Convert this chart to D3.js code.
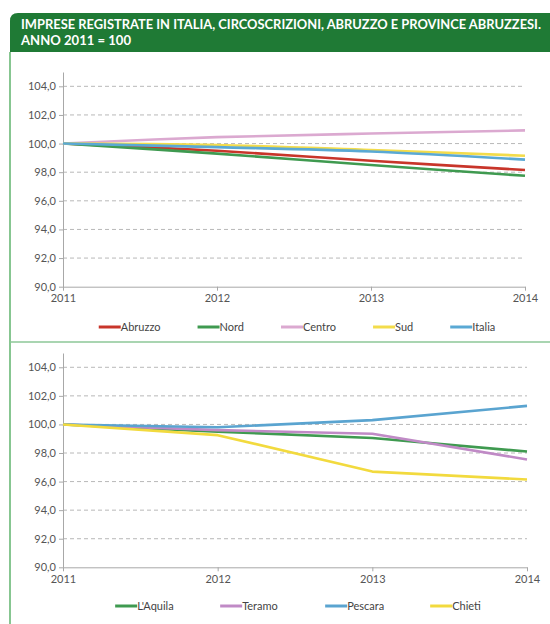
<!DOCTYPE html>
<html>
  <head>
    <meta charset="UTF-8">
    <title>Imprese registrate</title>
    <style>
      * { margin: 0; padding: 0; overflow: hidden; }
      body { background: #fff; }
      text { font-family: Lato, "DejaVu Sans", sans-serif; }
    </style>
    <script src="https://d3js.org/d3.v7.min.js"></script>
  </head>
  <body>
    <script type="text/javascript">
      // dati
      const years = ["2011", "2012", "2013", "2014"];
      const yTicks = [90, 92, 94, 96, 98, 100, 102, 104];

      const areaNames = ["Abruzzo", "Nord", "Centro", "Sud", "Italia"];
      const abruzzo = [100, 99.5, 98.8, 98.15];
      const nord = [100, 99.3, 98.5, 97.75];
      const centro = [100, 100.45, 100.7, 100.92];
      const sud = [100, 99.9, 99.55, 99.15];
      const italia = [100, 99.75, 99.45, 98.88];

      const provNames = ["L'Aquila", "Teramo", "Pescara", "Chieti"];
      const laquila = [100, 99.5, 99.05, 98.1];
      const teramo = [100, 99.6, 99.35, 97.55];
      const pescara = [100, 99.8, 100.3, 101.3];
      const chieti = [100, 99.25, 96.7, 96.15];

      const GREEN = "#1f7a35";
      const itFormat = d3.formatLocale({ decimal: ",", thousands: ".", grouping: [3], currency: ["", "€"] }).format(".1f");

      const svg = d3.select("body").append("svg")
        .attr("width", 550)
        .attr("height", 624);

      // intestazione
      svg.append("path")
        .attr("d", "M10,52 V21 Q10,13 18,13 H550 V52 Z")
        .attr("fill", GREEN);
      const title = ["IMPRESE REGISTRATE IN ITALIA, CIRCOSCRIZIONI, ABRUZZO E PROVINCE ABRUZZESI.", "ANNO 2011 = 100"];
      svg.selectAll(".title")
        .data(title)
        .enter()
        .append("text")
        .attr("transform", (d, i) => `translate(21,${28.5 + i * 16.5}) scale(1,1.12)`)
        .attr("fill", "#fff")
        .attr("font-family", "'Liberation Sans Narrow', 'DejaVu Sans Condensed', sans-serif")
        .attr("font-weight", "bold")
        .attr("font-size", 12.5)
        .attr("textLength", (d, i) => (i === 0 ? 520 : 110))
        .attr("lengthAdjust", "spacingAndGlyphs")
        .text((d) => d);

      // bordi dei pannelli
      svg.append("line")
        .attr("x1", 10).attr("x2", 10).attr("y1", 52).attr("y2", 624)
        .attr("stroke", "#5fb36d").attr("stroke-width", 1.5);
      svg.append("line")
        .attr("x1", 10).attr("x2", 550).attr("y1", 342).attr("y2", 342)
        .attr("stroke", "#8cc797").attr("stroke-width", 1.5);

      const drawChart = (cfg) => {
        const x = d3.scalePoint().domain(years).range([63, cfg.right]);
        const y = d3.scaleLinear().domain([90, 105]).range([cfg.bottom, cfg.top]);
        const g = svg.append("g");

        // griglia
        g.selectAll(".grid")
          .data(yTicks.filter((d) => d > 90))
          .enter()
          .append("line")
          .attr("x1", x(years[0])).attr("x2", x(years[years.length - 1]))
          .attr("y1", (d) => y(d)).attr("y2", (d) => y(d))
          .attr("stroke", "#b8b8b8")
          .attr("stroke-dasharray", "4,3");

        const yAxis = g.append("g")
          .attr("transform", `translate(${x(years[0])},0)`)
          .call(d3.axisLeft(y).tickValues(yTicks).tickFormat(itFormat).tickSize(4).tickSizeOuter(0).tickPadding(3));
        const xAxis = g.append("g")
          .attr("transform", `translate(0,${y(90)})`)
          .call(d3.axisBottom(x).tickSize(4).tickSizeOuter(0).tickPadding(4));
        [yAxis, xAxis].forEach((a) => {
          a.selectAll("path, line").attr("stroke", "#a8a8a8");
          a.selectAll("text").attr("fill", "#555").attr("font-size", 11).attr("font-family", "Lato, sans-serif");
        });

        const line = d3.line()
          .x((d, i) => x(years[i]))
          .y((d) => y(d))
          .curve(cfg.curve);

        g.selectAll(".serie")
          .data(cfg.series)
          .enter()
          .append("path")
          .attr("d", (d) => line(d.values))
          .attr("fill", "none")
          .attr("stroke", (d) => d.color)
          .attr("stroke-width", 2.6)
          .attr("stroke-linejoin", "round");

        // legenda
        const leg = g.append("g");
        const items = leg.selectAll(".leg")
          .data(cfg.series)
          .enter()
          .append("g");
        items.append("line")
          .attr("x1", 0).attr("x2", 22)
          .attr("stroke", (d) => d.color)
          .attr("stroke-width", 3);
        items.append("text")
          .attr("x", 22).attr("y", 4)
          .attr("fill", "#444")
          .attr("font-size", 11)
          .text((d) => d.name);
        let pos = 0;
        let lastW = 0;
        items.each(function (d) {
          const w = 22 + this.querySelector("text").getComputedTextLength();
          d3.select(this).attr("transform", `translate(${pos},0)`);
          lastW = w;
          pos += cfg.slot ? cfg.slot : w + cfg.gap;
        });
        const total = cfg.slot ? pos - cfg.slot + lastW : pos - cfg.gap;
        const cx = (63 + cfg.right) / 2;
        leg.attr("transform", `translate(${cx - total / 2 + 3},${cfg.legendY})`);
      };

      drawChart({
        right: 525, top: 72, bottom: 286.7, legendY: 327, gap: 37,
        curve: d3.curveCatmullRom.alpha(0.5),
        series: [
          { name: areaNames[0], values: abruzzo, color: "#c8352a" },
          { name: areaNames[1], values: nord, color: "#3f9a50" },
          { name: areaNames[2], values: centro, color: "#dba9d0" },
          { name: areaNames[3], values: sud, color: "#f3dc4b" },
          { name: areaNames[4], values: italia, color: "#5aa9d4" }
        ]
      });

      drawChart({
        right: 527, top: 353, bottom: 567.3, legendY: 606, slot: 105,
        curve: d3.curveLinear,
        series: [
          { name: provNames[0], values: laquila, color: "#3f9a50" },
          { name: provNames[1], values: teramo, color: "#c08ac6" },
          { name: provNames[2], values: pescara, color: "#5aa4d0" },
          { name: provNames[3], values: chieti, color: "#f2da3e" }
        ]
      });
    </script>
  </body>
</html>
